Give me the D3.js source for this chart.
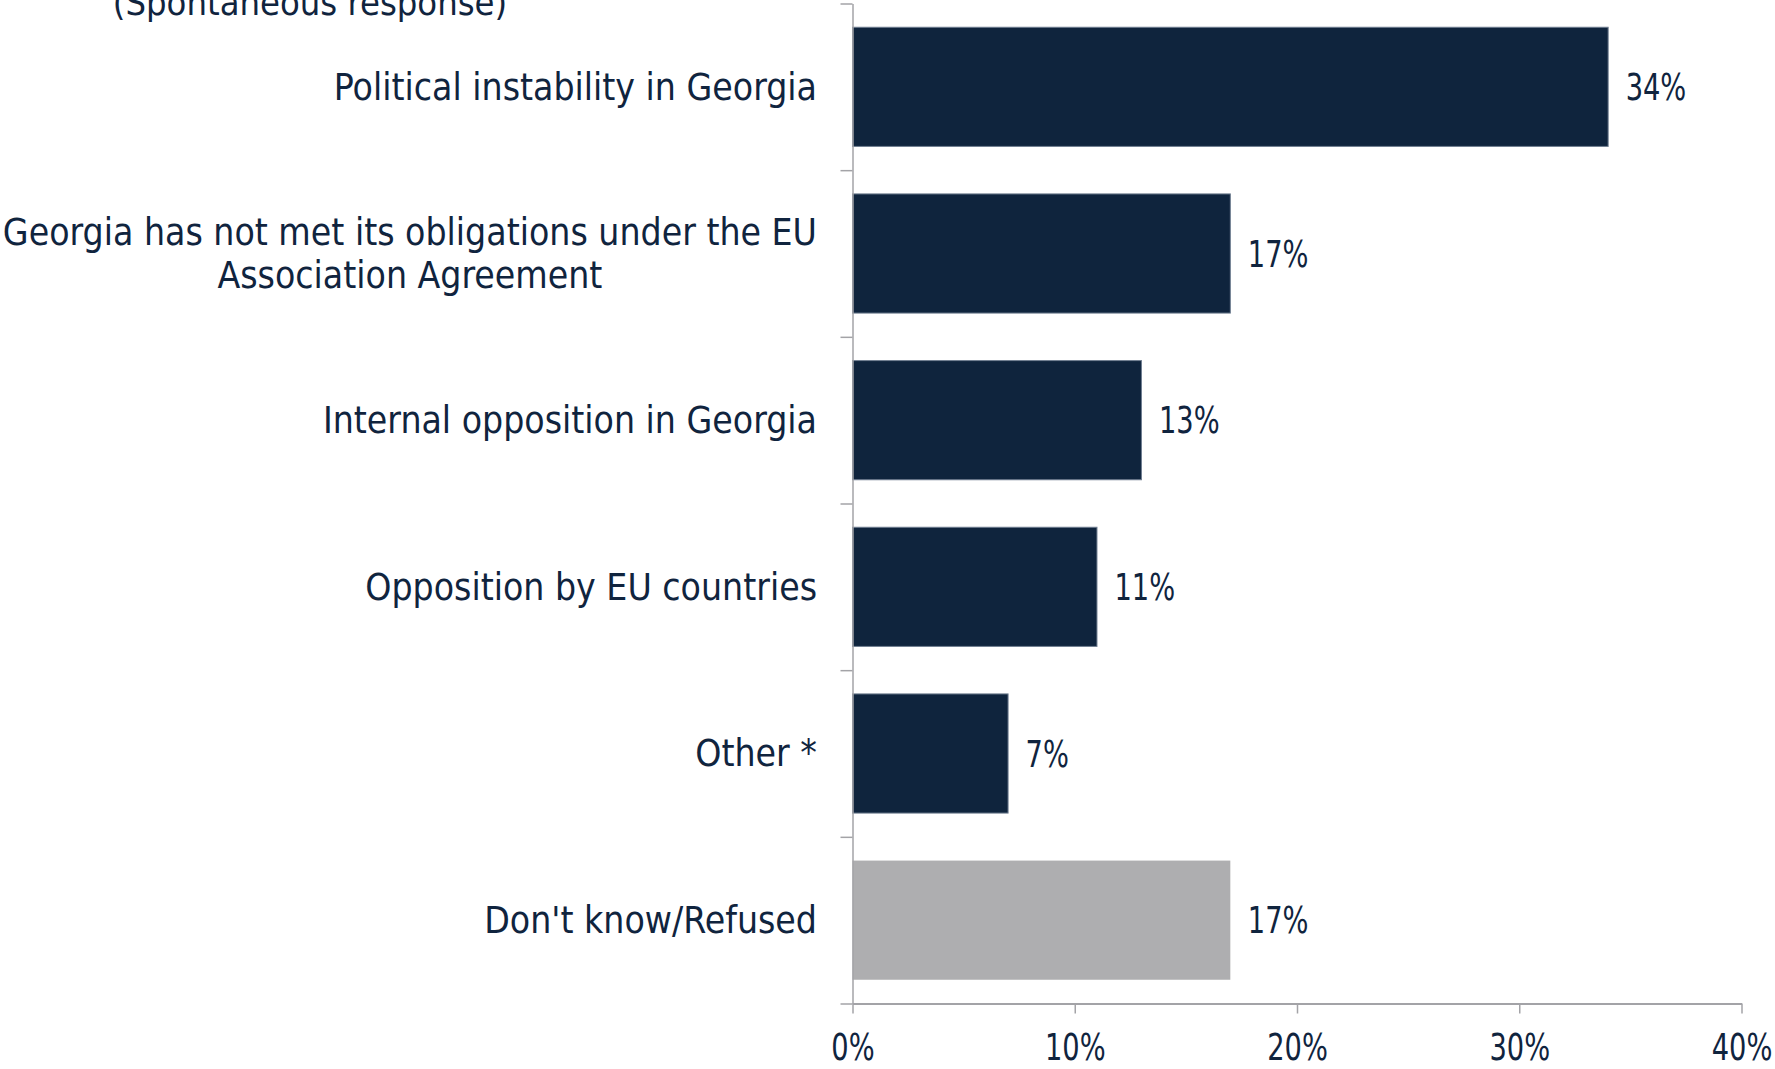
<!DOCTYPE html>
<html>
<head>
<meta charset="utf-8">
<script src="https://cdn.jsdelivr.net/npm/d3@7"></script>
<style>
  html, body { margin: 0; padding: 0; background: #ffffff; }
  svg { display: block; }
  .lbl { font-family: "DejaVu Sans Condensed", "DejaVu Sans", sans-serif; fill: #10243e; }
</style>
</head>
<body>
<script>
const categories = [
  ["Political instability in Georgia"],
  ["Georgia has not met its obligations under the EU", "Association Agreement"],
  ["Internal opposition in Georgia"],
  ["Opposition by EU countries"],
  ["Other *"],
  ["Don't know/Refused"]
];
const values = [34, 17, 13, 11, 7, 17];
const barColors = ["#0f243d", "#0f243d", "#0f243d", "#0f243d", "#0f243d", "#aeaeb0"];
const xTicks = [0, 10, 20, 30, 40];
const subtitle = "(Spontaneous response)";

(function () {
const W = 1775, H = 1069;
const mLeft = 852.5, mRight = 1741.5, mTop = 3.5, mBottom = 1003.5;
const numScale = 0.82;

const svg = d3.select("body").append("svg").attr("width", W).attr("height", H);

const keys = categories.map(c => c.join(" "));
const x = d3.scaleLinear().domain([0, 40]).range([mLeft, mRight]);
const y = d3.scaleBand().domain(keys).range([mTop, mBottom]).paddingInner(0.285).paddingOuter(0.1425);
const yIdx = d3.scaleLinear().domain([0, categories.length]).range([mTop, mBottom]);

const axisColor = "#a3a3a7";

// bars
svg.append("g").selectAll("rect").data(values).join("rect")
  .attr("x", x(0))
  .attr("y", (d, i) => y(keys[i]))
  .attr("width", d => x(d) - x(0))
  .attr("height", y.bandwidth())
  .attr("fill", (d, i) => barColors[i])
  .attr("stroke", (d, i) => i < 5 ? "#6f7d90" : "none")
  .attr("stroke-width", 1);

// y axis with boundary ticks
const yAxis = svg.append("g").attr("transform", `translate(${mLeft},0)`)
  .call(d3.axisLeft(yIdx).tickValues(d3.range(categories.length + 1)).tickFormat("").tickSize(12).tickSizeOuter(0));
yAxis.select(".domain").attr("stroke", axisColor).attr("stroke-width", 1.5);
yAxis.selectAll(".tick line").attr("stroke", axisColor).attr("stroke-width", 1.5);

// x axis
const xAxis = svg.append("g").attr("transform", `translate(0,${mBottom})`)
  .call(d3.axisBottom(x).tickValues(xTicks).tickFormat(d => d + "%").tickSize(10).tickSizeOuter(0).tickPadding(22));
xAxis.select(".domain").attr("stroke", axisColor).attr("stroke-width", 2);
xAxis.selectAll(".tick line").attr("stroke", axisColor).attr("stroke-width", 1.5);
xAxis.selectAll(".tick text").attr("class", "lbl").attr("font-size", 37).attr("fill", "#10243e")
  .attr("dy", "0.65em").attr("transform", `scale(${numScale},1)`);

// category labels
const labelRight = 817;
const lineH = 43;
const catG = svg.append("g");
categories.forEach((lines, i) => {
  const cy = y(keys[i]) + y.bandwidth() / 2;
  const t = catG.append("text").attr("class", "lbl").attr("font-size", 37);
  if (lines.length === 1) {
    t.attr("x", labelRight).attr("y", cy).attr("dy", "0.35em").attr("text-anchor", "end").text(lines[0]);
  } else {
    t.attr("text-anchor", "middle");
    const spans = lines.map((s, j) => t.append("tspan").attr("y", cy + (j - (lines.length - 1) / 2) * lineH).attr("dy", "0.35em").text(s));
    const maxW = d3.max(spans, s => s.node().getComputedTextLength());
    spans.forEach(s => s.attr("x", labelRight - maxW / 2));
  }
});

// value labels
svg.append("g").selectAll("text").data(values).join("text")
  .attr("class", "lbl").attr("font-size", 37)
  .attr("transform", (d, i) => `translate(${x(d) + 17.5},${y(keys[i]) + y.bandwidth() / 2}) scale(${numScale},1)`)
  .attr("dy", "0.36em")
  .text(d => d + "%");

// subtitle (partly cut off at the top)
svg.append("text").attr("class", "lbl").attr("font-size", 36)
  .attr("x", 310).attr("y", 15).attr("text-anchor", "middle").text(subtitle);
})();
</script>
</body>
</html>
